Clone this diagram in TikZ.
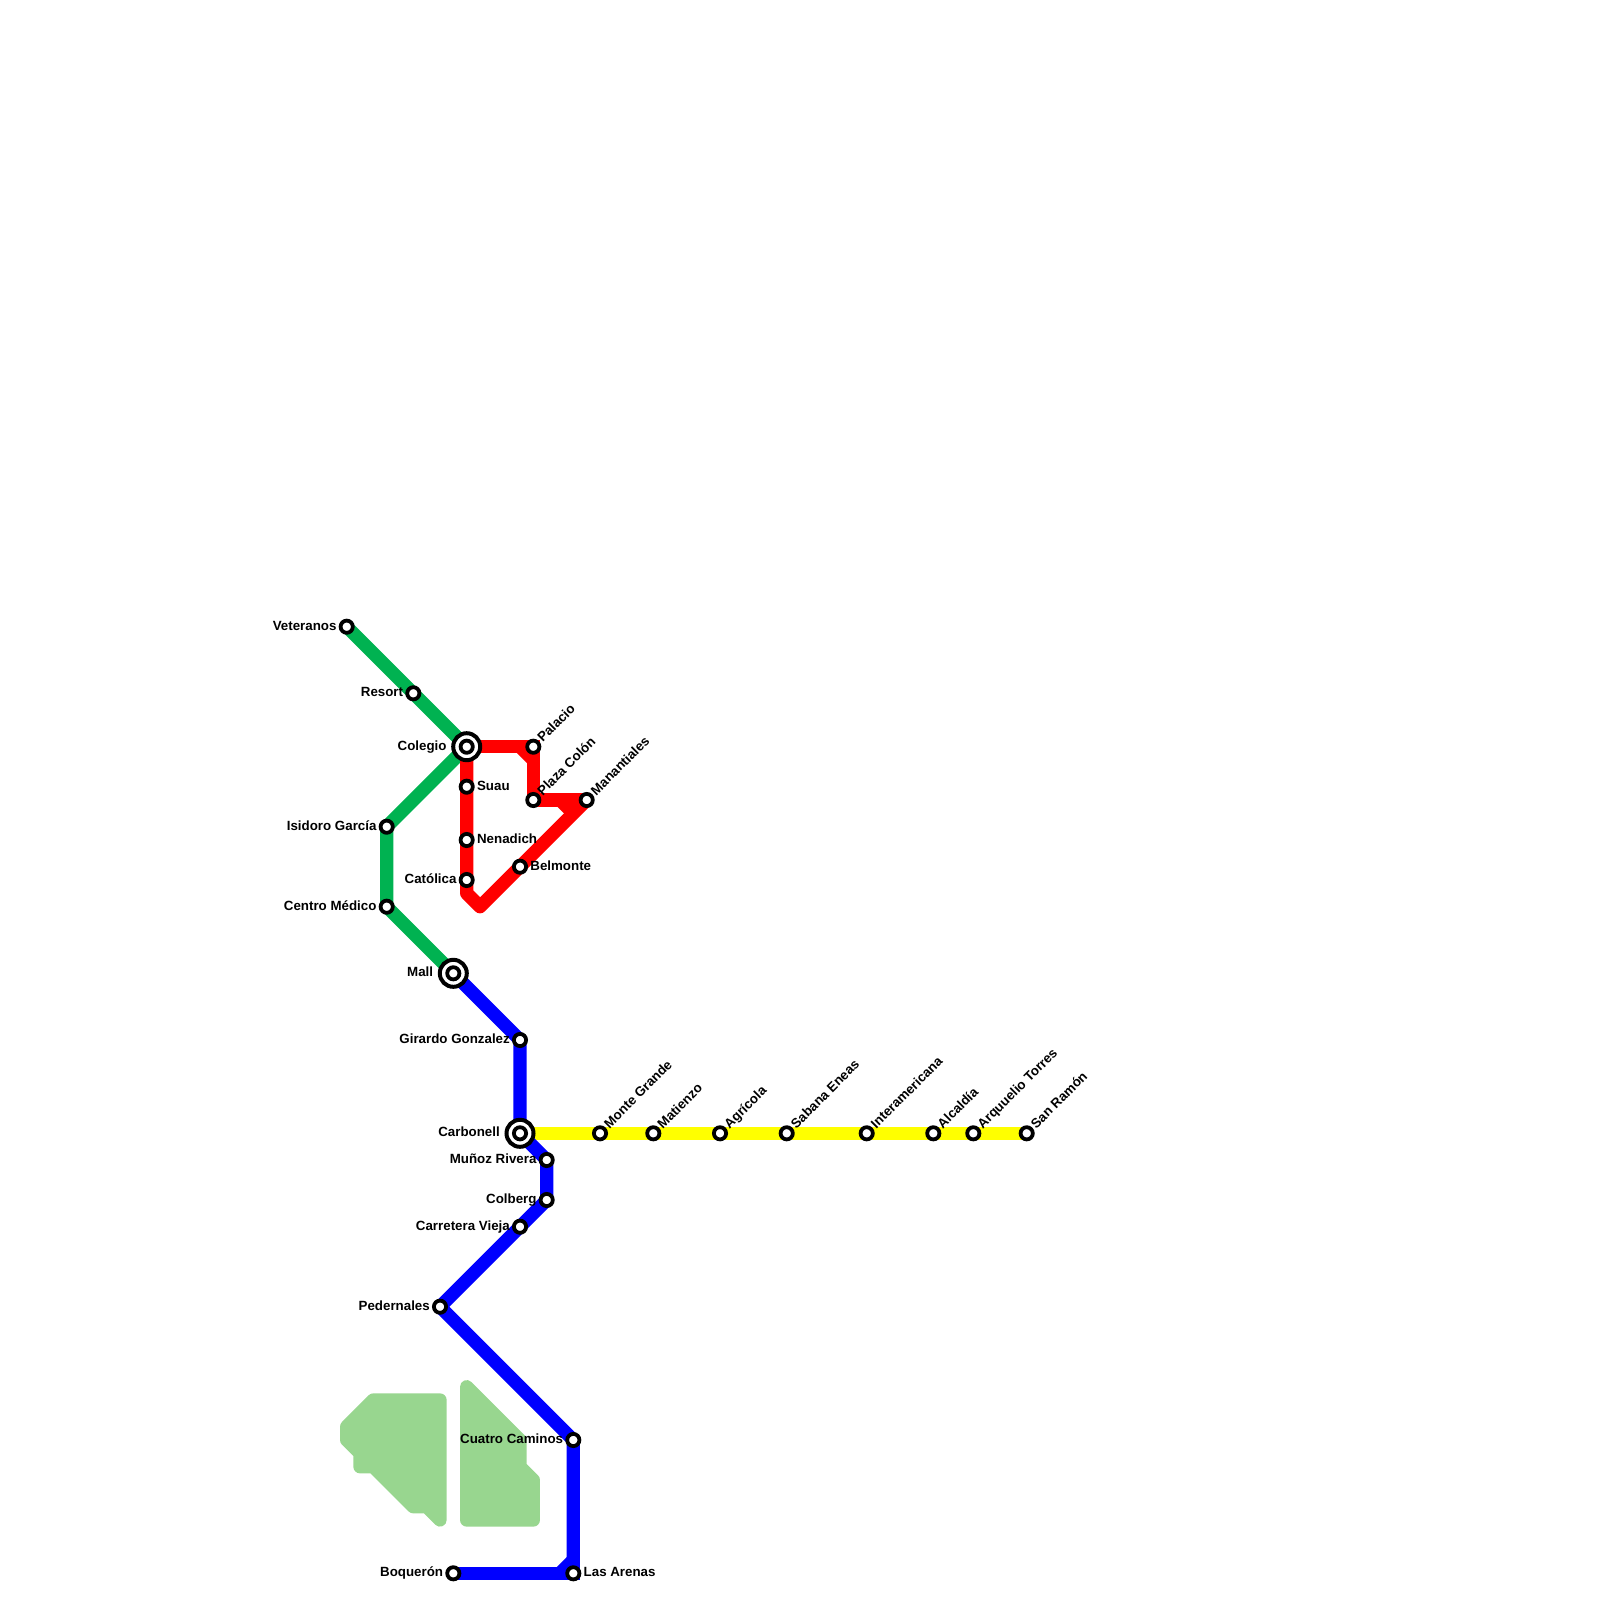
\documentclass[tikz,border=0pt]{standalone}
\usepackage{fontspec}
\setmainfont{Liberation Sans}
\usetikzlibrary{backgrounds}
\definecolor{lgreen}{HTML}{00B251}
\definecolor{park}{HTML}{98D68F}
\definecolor{lyellow}{HTML}{FFFF00}
\definecolor{lred}{HTML}{FF0000}
\definecolor{lblue}{HTML}{0000FF}
\tikzset{
  stn/.style={circle,draw=black,fill=white,line width=3.8pt,minimum size=12.2pt,inner sep=0pt,outer sep=0pt},
  hub/.style={circle,draw=black,fill=white,line width=4pt,minimum size=27pt,inner sep=0pt,outer sep=0pt},
  lbl/.style={inner sep=0pt,outer sep=0pt,font=\fontsize{13.33}{16}\selectfont\bfseries,text=black},
  lblL/.style={lbl,anchor=base east,xshift=-10.2pt,yshift=-3.3pt},
  lblLL/.style={lbl,anchor=base east,xshift=-20.2pt,yshift=-3.3pt},
  lblR/.style={lbl,anchor=base west,xshift=10.4pt,yshift=-3.3pt},
  lblD/.style={lbl,anchor=base west,xshift=9.6pt,yshift=4pt,rotate=45},
  tl/.style={line width=13.33pt,line join=round},
  tlm/.style={line width=13.33pt,line join=miter},
  parkshape/.style={draw=park,fill=park,line width=13.33pt,line join=round}
}
\begin{document}
\begin{tikzpicture}[x=1pt,y=-1pt]
\useasboundingbox (0,0) rectangle (1600,1600);
% stations
\node[stn] (vet) at (346.7,626.7) {};
\node[stn] (res) at (413.3,693.3) {};
\node[hub] (colr) at (466.7,746.7) {};
\node[stn] (col) at (466.7,746.7) {};
\node[stn] (pal) at (533.3,746.7) {};
\node[stn] (pla) at (533.3,800) {};
\node[stn] (man) at (586.7,800) {};
\node[stn] (sua) at (466.7,786.7) {};
\node[stn] (nen) at (466.7,840) {};
\node[stn] (cat) at (466.7,880) {};
\node[stn] (bel) at (520,866.7) {};
\node[stn] (isi) at (386.7,826.7) {};
\node[stn] (cen) at (386.7,906.7) {};
\node[hub] (malr) at (453.3,973.3) {};
\node[stn] (mal) at (453.3,973.3) {};
\node[stn] (gir) at (520,1040) {};
\node[hub] (carr) at (520,1133.3) {};
\node[stn] (car) at (520,1133.3) {};
\node[stn] (mun) at (546.7,1160) {};
\node[stn] (clb) at (546.7,1200) {};
\node[stn] (cav) at (520,1226.7) {};
\node[stn] (ped) at (440,1306.7) {};
\node[stn] (cua) at (573.3,1440) {};
\node[stn] (are) at (573.3,1573.3) {};
\node[stn] (boq) at (453.3,1573.3) {};
\node[stn] (mon) at (600,1133.3) {};
\node[stn] (mat) at (653.3,1133.3) {};
\node[stn] (agr) at (720,1133.3) {};
\node[stn] (sab) at (786.7,1133.3) {};
\node[stn] (int) at (866.7,1133.3) {};
\node[stn] (alc) at (933.3,1133.3) {};
\node[stn] (arq) at (973.3,1133.3) {};
\node[stn] (san) at (1026.7,1133.3) {};
% bend points
\coordinate (r1) at (520,746.7);
\coordinate (r2) at (533.3,760);
\coordinate (r3) at (560,800);
\coordinate (r4) at (573.3,813.3);
\coordinate (r5) at (466.7,893.3);
\coordinate (r6) at (480,906.7);
\coordinate (b1) at (560,1573.3);
\coordinate (b2) at (573.3,1560);
% labels
\node[lblL] (tvet) at (vet) {Veteranos};
\node[lblL] (tres) at (res) {Resort};
\node[lblLL] (tcol) at (col) {Colegio};
\node[lblD] (tpal) at (pal) {Palacio};
\node[lblD] (tpla) at (pla) {Plaza Colón};
\node[lblD] (tman) at (man) {Manantiales};
\node[lblR] (tsua) at (sua) {Suau};
\node[lblR] (tnen) at (nen) {Nenadich};
\node[lblL] (tcat) at (cat) {Católica};
\node[lblR] (tbel) at (bel) {Belmonte};
\node[lblL] (tisi) at (isi) {Isidoro García};
\node[lblL] (tcen) at (cen) {Centro Médico};
\node[lblLL] (tmal) at (mal) {Mall};
\node[lblL] (tgir) at (gir) {Girardo Gonzalez};
\node[lblLL] (tcar) at (car) {Carbonell};
\node[lblL] (tmun) at (mun) {Muñoz Rivera};
\node[lblL] (tclb) at (clb) {Colberg};
\node[lblL] (tcav) at (cav) {Carretera Vieja};
\node[lblL] (tped) at (ped) {Pedernales};
\node[lblL] (tcua) at (cua) {Cuatro Caminos};
\node[lblR] (tare) at (are) {Las Arenas};
\node[lblL] (tboq) at (boq) {Boquerón};
\node[lblD] (tmon) at (mon) {Monte Grande};
\node[lblD] (tmat) at (mat) {Matienzo};
\node[lblD] (tagr) at (agr) {Agrícola};
\node[lblD] (tsab) at (sab) {Sabana Eneas};
\node[lblD] (tint) at (int) {Interamericana};
\node[lblD] (talc) at (alc) {Alcaldía};
\node[lblD] (tarq) at (arq) {Arquuelio Torres};
\node[lblD] (tsan) at (san) {San Ramón};
\begin{pgfonlayer}{background}
% parks
\path[parkshape] (346.7,1426.7) -- (373.3,1400) -- (440,1400) -- (440,1520) -- (426.7,1506.7) -- (413.3,1506.7) -- (373.3,1466.7) -- (360,1466.7) -- (360,1453.3) -- (346.7,1440) -- cycle;
\path[parkshape] (466.7,1386.7) -- (520,1440) -- (520,1466.7) -- (533.3,1480) -- (533.3,1520) -- (466.7,1520) -- cycle;
% yellow
\draw[tl,lyellow] (car.center) -- (mon.center) -- (mat.center) -- (agr.center) -- (sab.center) -- (int.center) -- (alc.center) -- (arq.center) -- (san.center);
% green
\draw[tl,lgreen] (vet.center) -- (res.center) -- (col.center) -- (isi.center) -- (cen.center) -- (mal.center);
% red
\draw[tlm,lred] (col.center) -- (pal.center) -- (pla.center);
\draw[tl,lred] (r1) -- (r2);
\draw[tl,lred] (col.center) -- (sua.center) -- (nen.center) -- (cat.center) -- (r5) -- (r6) -- (bel.center) -- (man.center);
\draw[tl,lred] (pla.center) -- (man.center);
\draw[tl,lred] (r3) -- (r4);
% blue
\draw[tl,lblue] (mal.center) -- (gir.center) -- (car.center) -- (mun.center) -- (clb.center) -- (cav.center) -- (ped.center) -- (cua.center) -- (are.center);
\draw[tlm,lblue] (boq.center) -- (are.center) -- (cua.center);
\draw[tl,lblue] (b1) -- (b2);
\end{pgfonlayer}
\end{tikzpicture}
\end{document}
